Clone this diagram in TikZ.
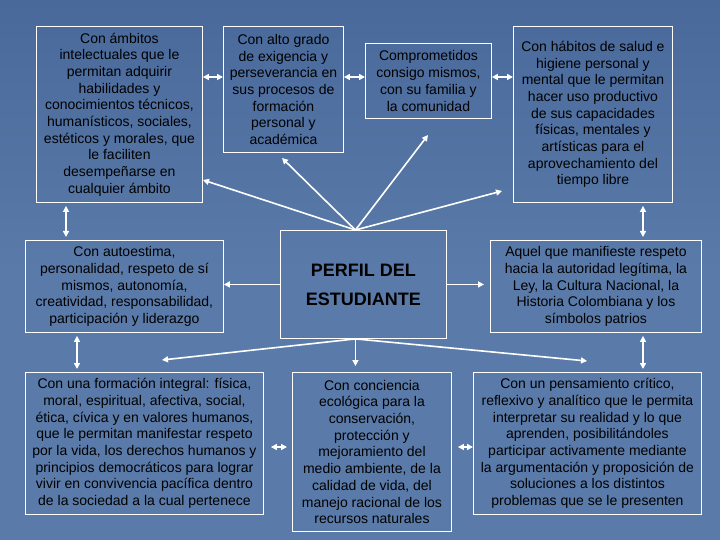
\documentclass[tikz,border=0pt]{standalone}
\usepackage{fontspec}
\setmainfont{Liberation Sans}
\usetikzlibrary{arrows.meta}
\definecolor{fondo}{HTML}{5A7BA9}
\definecolor{fondoalto}{HTML}{48699A}
\tikzset{
	caja/.style={draw=white,line width=0.9pt,anchor=north west,inner sep=0pt,align=center,
		text=black,font=\fontsize{14}{16.7}\selectfont},
	flecha/.style={draw=white,line width=1.6pt,-{Triangle[length=6pt,width=6pt]}},
	doble/.style={draw=white,line width=1.6pt,{Triangle[length=6pt,width=6pt]}-{Triangle[length=6pt,width=6pt]}}
}

\begin{document}
\begin{tikzpicture}[x=1pt,y=-1pt]
			\useasboundingbox (0,0) rectangle (720,540);
			\shade[top color=fondoalto,bottom color=fondo,middle color=fondo] (0,0) rectangle (720,540);
			% cajas de arriba
			\node[caja,minimum width=166,minimum height=176] (ambitos) at (36,26) {Con ámbitos\\intelectuales que le\\permitan adquirir\\habilidades y\\conocimientos técnicos,\\humanísticos, sociales,\\estéticos y morales, que\\le faciliten\\desempeñarse en\\cualquier ámbito};
			\node[caja,minimum width=120,minimum height=126] (exigencia) at (223,26) {Con alto grado\\de exigencia y\\perseverancia en\\sus procesos de\\formación\\personal y\\académica};
			\node[caja,minimum width=126,minimum height=75] (compromiso) at (365,43) {Comprometidos\\consigo mismos,\\con su familia y\\la comunidad};
			\node[caja,minimum width=159,minimum height=176] (salud) at (513,26) {Con hábitos de salud e\\higiene personal y\\mental que le permitan\\hacer uso productivo\\de sus capacidades\\físicas, mentales y\\artísticas para el\\aprovechamiento del\\tiempo libre};
			% fila del medio
			\node[caja,minimum width=198,minimum height=92] (autoestima) at (25,240) {Con autoestima,\\personalidad, respeto de sí\\mismos, autonomía,\\creatividad, responsabilidad,\\participación y liderazgo};
			\node[caja,minimum width=166,minimum height=108,font=\fontsize{18}{29}\selectfont\bfseries] (perfil) at (280,230) {PERFIL DEL\\ESTUDIANTE};
			\node[caja,minimum width=211,minimum height=92] (respeto) at (490,240) {Aquel que manifieste respeto\\hacia la autoridad legítima, la\\Ley, la Cultura Nacional, la\\Historia Colombiana y los\\símbolos patrios};
			% cajas de abajo
			\node[caja,minimum width=238,minimum height=142] (integral) at (25,372) {Con una formación integral: física,\\moral, espiritual, afectiva, social,\\ética, cívica y en valores humanos,\\que le permitan manifestar respeto\\por la vida, los derechos humanos y\\principios democráticos para lograr\\vivir en convivencia pacífica dentro\\de la sociedad a la cual pertenece};
			\node[caja,minimum width=159,minimum height=159] (ecologia) at (292,372) {Con conciencia\\ecológica para la\\conservación,\\protección y\\mejoramiento del\\medio ambiente, de la\\calidad de vida, del\\manejo racional de los\\recursos naturales};
			\node[caja,minimum width=228,minimum height=142] (critico) at (473,372) {Con un pensamiento crítico,\\reflexivo y analítico que le permita\\interpretar su realidad y lo que\\aprenden, posibilitándoles\\participar activamente mediante\\la argumentación y proposición de\\soluciones a los distintos\\problemas que se le presenten};
			% puntas de las flechas que salen del perfil
			\coordinate (arriba) at ([xshift=-8pt]perfil.north);
			\coordinate (abajo) at ([xshift=-8pt]perfil.south);
			\coordinate (fila) at (0,77);
			\coordinate (fila2) at (0,447);
			\coordinate (p1) at (203,180);
			\coordinate (p2) at (282,158);
			\coordinate (p3) at (428,135);
			\coordinate (p4) at (502,191);
			\coordinate (p5) at (162,360);
			\coordinate (p6) at (587,361);
			\foreach \p in {p1,p2,p3,p4}{
				\draw[flecha] (arriba) -- (\p);
			}
			\foreach \p in {p5,p6}{
				\draw[flecha] (abajo) -- (\p);
			}
			\draw[flecha] (perfil.west) -- (perfil.west -| autoestima.east);
			\draw[flecha,shorten >=6pt] (perfil.east) -- (perfil.east -| respeto.west);
			\draw[flecha,shorten >=6pt] (abajo) -- (abajo |- ecologia.north);
			% flechas dobles
			\draw[doble] (ambitos.east |- fila) -- (exigencia.west |- fila);
			\draw[doble] (exigencia.east |- fila) -- (compromiso.west |- fila);
			\draw[doble] (compromiso.east |- fila) -- (salud.west |- fila);
			\draw[doble,shorten <=3pt,shorten >=3pt] (ambitos.south -| 66,0) -- (autoestima.north -| 66,0);
			\draw[doble,shorten <=3pt,shorten >=3pt] (salud.south -| 643,0) -- (respeto.north -| 643,0);
			\draw[doble,shorten <=3pt,shorten >=3pt] (autoestima.south -| 77,0) -- (integral.north -| 77,0);
			\draw[doble,shorten <=3pt,shorten >=3pt] (respeto.south -| 643,0) -- (critico.north -| 643,0);
			\draw[doble,shorten <=7pt,shorten >=5pt] (integral.east |- fila2) -- (ecologia.west |- fila2);
			\draw[doble,shorten <=6pt,shorten >=0pt] (ecologia.east |- fila2) -- (critico.west |- fila2);
		\end{tikzpicture}
\end{document}
